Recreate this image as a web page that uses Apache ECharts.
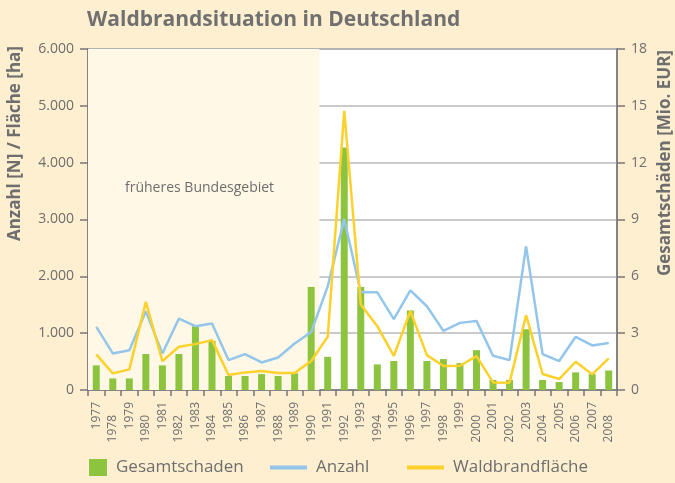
<!DOCTYPE html>
<html>
<head>
<meta charset="utf-8">
<script src="https://cdn.jsdelivr.net/npm/echarts@6/dist/echarts.min.js"></script>
<style>
html,body{margin:0;padding:0;background:#fdefd0;}
#chart{width:675px;height:483px;}
</style>
</head>
<body>
<div id="chart"></div>
<script>
const years = ['1977','1978','1979','1980','1981','1982','1983','1984','1985','1986','1987','1988','1989','1990','1991','1992','1993','1994','1995','1996','1997','1998','1999','2000','2001','2002','2003','2004','2005','2006','2007','2008'];
// Gesamtschaden [Mio. EUR]
const gesamtschaden = [1.3,0.61,0.61,1.9,1.3,1.9,3.37,2.6,0.74,0.74,0.84,0.74,0.88,5.44,1.75,12.8,5.44,1.35,1.53,4.2,1.53,1.63,1.42,2.1,0.53,0.53,3.21,0.53,0.42,0.93,0.84,1.03];
// Anzahl [N]
const anzahl = [1110,643,700,1386,643,1257,1123,1170,526,632,485,573,819,1018,1824,3006,1719,1719,1246,1754,1474,1041,1181,1216,602,526,2526,632,509,936,784,825];
// Waldbrandfläche [ha]
const flaeche = [626,292,363,1550,509,760,807,877,263,310,333,298,298,509,936,4912,1503,1123,602,1386,614,421,427,596,134,129,1316,281,193,497,275,556];
const leftTicks = [0,1000,2000,3000,4000,5000,6000];
const rightTicks = [0,3,6,9,12,15,18];
const shadedRange = [0, 14]; // früheres Bundesgebiet: 1977–1990 (category band indices)

const grey = '#6e6e6e';
const font = '"Open Sans", "Noto Sans", sans-serif';
const chart = echarts.init(document.getElementById('chart'));
chart.setOption({
  backgroundColor: '#fdefd0',
  animation: false,
  textStyle: { fontFamily: font, color: grey },
  title: {
    text: 'Waldbrandsituation in Deutschland',
    left: 82, top: 5,
    textStyle: { fontSize: 21, fontWeight: 'bold', color: '#707070', fontFamily: font }
  },
  graphic: [
    { type: 'text', left: 7, top: 46, rotation: Math.PI/2,
      style: { text: 'Anzahl [N] / Fläche [ha]', fontSize: 17, fontWeight: 'bold', fill: grey, fontFamily: font } },
    { type: 'text', right: 1, top: 50, rotation: Math.PI/2,
      style: { text: 'Gesamtschäden [Mio. EUR]', fontSize: 17, fontWeight: 'bold', fill: grey, fontFamily: font } },
    { type: 'text', left: 125, top: 181, z: 5,
      style: { text: 'früheres Bundesgebiet', fontSize: 14, fill: grey, fontFamily: font } }
  ],
  grid: { left: 88, right: 58, top: 49, bottom: 93, show: true, backgroundColor: '#ffffff', borderColor: '#8a8a8a', borderWidth: 1.5 },
  legend: [
    { left: 84, bottom: 2, itemWidth: 18, itemHeight: 17, data: [{ name: 'Gesamtschaden', icon: 'rect' }],
      textStyle: { fontSize: 17, color: grey, fontFamily: font, padding: [0,0,0,4] } },
    { left: 265, bottom: 2, itemWidth: 37, itemHeight: 4, data: [{ name: 'Anzahl', icon: 'rect' }],
      textStyle: { fontSize: 17, color: grey, fontFamily: font, padding: [0,0,0,4] } },
    { left: 402, bottom: 2, itemWidth: 37, itemHeight: 4, data: [{ name: 'Waldbrandfläche', icon: 'rect' }],
      textStyle: { fontSize: 17, color: grey, fontFamily: font, padding: [0,0,0,4] } }
  ],
  xAxis: [
    {
      type: 'category', data: years, boundaryGap: true,
      axisLine: { lineStyle: { color: '#777', width: 1.5 } },
      axisTick: { show: true, length: 6, interval: 0, lineStyle: { color: '#777', width: 1.5 } },
      axisLabel: {
        rotate: 90, interval: 0, margin: 12, fontSize: 12, color: grey,
        formatter: (v, i) => (i % 2 ? '{b|' + v + '}' : '{a|' + v + '}'),
        rich: { a: { fontSize: 12, color: grey }, b: { fontSize: 12, color: grey, padding: [0, 13, 0, 0] } }
      }
    },
    { type: 'value', min: 0, max: years.length, show: false }
  ],
  yAxis: [
    {
      type: 'value', min: leftTicks[0], max: leftTicks[leftTicks.length-1], interval: 1000,
      axisLine: { show: true, lineStyle: { color: '#777', width: 1.5 } },
      axisTick: { show: true, length: 8, lineStyle: { color: '#777', width: 1.5 } },
      axisLabel: { fontSize: 14, color: grey, margin: 14,
        formatter: v => v.toLocaleString('de-DE') },
      splitLine: { show: true, lineStyle: { color: '#b8b8bc', width: 1.5 } }
    },
    {
      type: 'value', min: rightTicks[0], max: rightTicks[rightTicks.length-1], interval: 3,
      axisLine: { show: true, lineStyle: { color: '#777', width: 1.5 } },
      axisTick: { show: true, length: 8, lineStyle: { color: '#777', width: 1.5 } },
      axisLabel: { fontSize: 14, color: grey, margin: 14 },
      splitLine: { show: false }
    }
  ],
  series: [
    {
      name: 'shade', type: 'line', xAxisIndex: 1, yAxisIndex: 0, data: [], silent: true, z: 0,
      markArea: { silent: true, itemStyle: { color: '#fff8e6' },
        data: [[{ xAxis: shadedRange[0] }, { xAxis: shadedRange[1] }]] }
    },
    {
      name: 'Gesamtschaden', type: 'bar', yAxisIndex: 1, data: gesamtschaden,
      barWidth: 7, itemStyle: { color: '#8cc43f' }, z: 2
    },
    {
      name: 'Anzahl', type: 'line', yAxisIndex: 0, data: anzahl,
      symbol: 'none', lineStyle: { color: '#93c6ea', width: 2.5 }, itemStyle: { color: '#93c6ea' }, z: 3
    },
    {
      name: 'Waldbrandfläche', type: 'line', yAxisIndex: 0, data: flaeche,
      symbol: 'none', lineStyle: { color: '#fdd12b', width: 2.5 }, itemStyle: { color: '#fdd12b' }, z: 4
    }
  ]
});
</script>
</body>
</html>
